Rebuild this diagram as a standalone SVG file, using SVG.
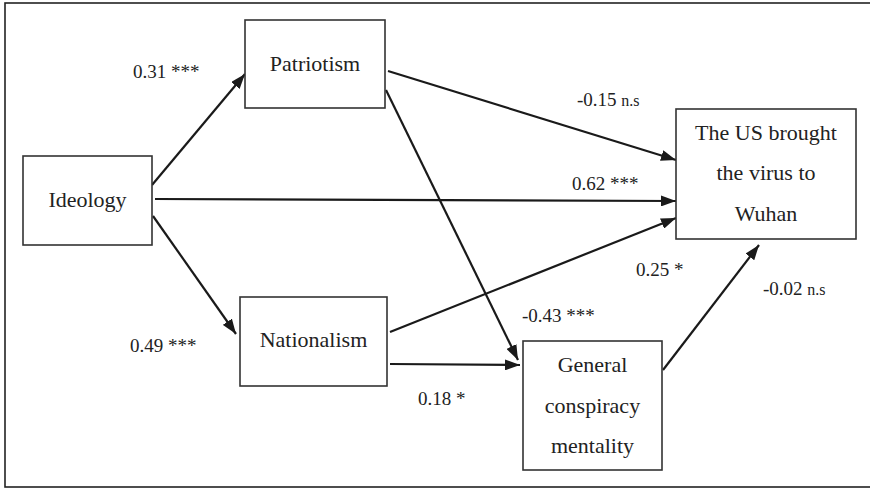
<svg xmlns="http://www.w3.org/2000/svg" width="870" height="488" viewBox="0 0 870 488">
<defs>
<marker id="arr" viewBox="0 0 15 11" refX="15" refY="5.5" markerWidth="15" markerHeight="11" markerUnits="userSpaceOnUse" orient="auto">
<path d="M0,0 L15,5.5 L0,11 Z" fill="#1a1a1a"/>
</marker>
<style>
.box{fill:#fff;stroke:#333;stroke-width:1.6}
.nt{font-size:22px;fill:#222;text-anchor:middle}
.lb{font-size:19px;fill:#222}
.sm{font-size:16px}
.edge{stroke:#1a1a1a;stroke-width:2.2;fill:none;marker-end:url(#arr)}
</style>
</defs>
<rect x="0" y="0" width="870" height="488" fill="#fff"/>
<rect x="5" y="3" width="880" height="484" fill="none" stroke="#222" stroke-width="1.6"/>
<g id="connectors">
<line class="edge" x1="152" y1="185" x2="245" y2="74"/>
<line class="edge" x1="155" y1="199" x2="676" y2="201"/>
<line class="edge" x1="153" y1="216" x2="236" y2="334"/>
<line class="edge" x1="388" y1="71" x2="676" y2="160"/>
<line class="edge" x1="386" y1="90" x2="518" y2="360"/>
<line class="edge" x1="390" y1="332" x2="676" y2="218"/>
<line class="edge" x1="390" y1="364" x2="520" y2="365"/>
<line class="edge" x1="663" y1="370" x2="759" y2="245"/>
</g>
<g id="labels" font-family="'Liberation Serif', 'Times New Roman', serif">
<text class="lb" x="133" y="78">0.31 ***</text>
<text class="lb" x="577" y="106">-0.15 <tspan class="sm">n.s</tspan></text>
<text class="lb" x="572" y="190">0.62 ***</text>
<text class="lb" x="130" y="352">0.49 ***</text>
<text class="lb" x="418" y="405">0.18 *</text>
<text class="lb" x="636" y="276">0.25 *</text>
<text class="lb" x="763" y="295">-0.02 <tspan class="sm">n.s</tspan></text>
<text class="lb" x="522" y="322">-0.43 ***</text>
</g>
<g id="patriotism" font-family="'Liberation Serif', 'Times New Roman', serif">
<rect class="box" x="245" y="20" width="140" height="88"/>
<text class="nt" x="315" y="71">Patriotism</text>
</g>
<g id="ideology" font-family="'Liberation Serif', 'Times New Roman', serif">
<rect class="box" x="23" y="156" width="129" height="89"/>
<text class="nt" x="87.5" y="207">Ideology</text>
</g>
<g id="nationalism" font-family="'Liberation Serif', 'Times New Roman', serif">
<rect class="box" x="240" y="297" width="147" height="89"/>
<text class="nt" x="313.5" y="347">Nationalism</text>
</g>
<g id="us-virus" font-family="'Liberation Serif', 'Times New Roman', serif">
<rect class="box" x="676" y="109" width="180" height="130"/>
<text class="nt" x="766" y="140">The US brought</text>
<text class="nt" x="766" y="180">the virus to</text>
<text class="nt" x="766" y="221">Wuhan</text>
</g>
<g id="conspiracy" font-family="'Liberation Serif', 'Times New Roman', serif">
<rect class="box" x="523" y="341" width="139" height="129"/>
<text class="nt" x="592.5" y="372">General</text>
<text class="nt" x="592.5" y="413">conspiracy</text>
<text class="nt" x="592.5" y="453">mentality</text>
</g>
</svg>
